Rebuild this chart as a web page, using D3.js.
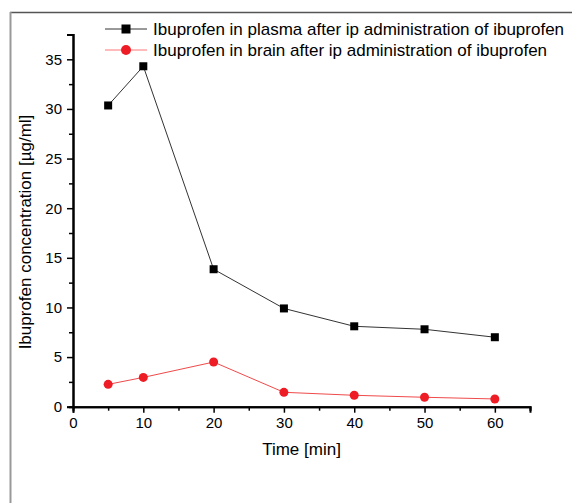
<!DOCTYPE html>
<html>
<head>
<meta charset="utf-8">
<script src="https://cdn.jsdelivr.net/npm/d3@7"></script>
<style>
  body { margin: 0; background: #fff; }
  svg { display: block; font-family: "Liberation Sans", Arial, sans-serif; }
</style>
</head>
<body>
<svg width="572" height="503"></svg>
<script>
// データ
var times = [5, 10, 20, 30, 40, 50, 60];
var plasma = [30.35, 34.3, 13.85, 9.9, 8.1, 7.8, 7.0];
var brain = [2.25, 2.95, 4.5, 1.45, 1.15, 0.95, 0.78];
var seriesNames = ["Ibuprofen in plasma after ip administration of ibuprofen",
                   "Ibuprofen in brain after ip administration of ibuprofen"];
var xTicks = [0, 10, 20, 30, 40, 50, 60];
var yTicks = [0, 5, 10, 15, 20, 25, 30, 35];

var svg = d3.select("svg");

// 枠
svg.append("line").attr("x1", 10).attr("x2", 572).attr("y1", 12.5).attr("y2", 12.5)
   .attr("stroke", "#555").attr("stroke-width", 1.5);
svg.append("line").attr("x1", 10.5).attr("x2", 10.5).attr("y1", 12).attr("y2", 503)
   .attr("stroke", "#999").attr("stroke-width", 2);

var x = d3.scaleLinear().domain([0, 65]).range([73, 530]);
var y = d3.scaleLinear().domain([0, 37.5]).range([406.7, 34.5]);

// 軸
var xAxis = svg.append("g").attr("transform", "translate(0,406.7)");
xAxis.call(d3.axisBottom(x).tickValues(d3.range(5, 70, 10)).tickSize(4).tickFormat(""));
xAxis.call(function(g) {
  g.append("g").call(d3.axisBottom(x).tickValues(xTicks).tickSize(6).tickPadding(5));
});
var yAxis = svg.append("g").attr("transform", "translate(73,0)");
yAxis.call(d3.axisLeft(y).tickValues(d3.range(2.5, 40, 5)).tickSize(4).tickFormat(""));
yAxis.call(function(g) {
  g.append("g").call(d3.axisLeft(y).tickValues(yTicks).tickSize(6).tickPadding(5));
});
svg.selectAll(".domain").attr("stroke", "#000").attr("stroke-width", 2);
svg.selectAll(".tick line").attr("stroke", "#000").attr("stroke-width", 1.5);
svg.selectAll(".tick text").attr("font-size", 15).attr("font-family", "Liberation Sans, Arial, sans-serif").attr("fill", "#000");

// 軸ラベル
svg.append("text").attr("x", 301.5).attr("y", 455).attr("text-anchor", "middle")
   .attr("font-size", 17).attr("fill", "#000").text("Time [min]");
svg.append("text").attr("transform", "translate(31,232) rotate(-90)").attr("text-anchor", "middle")
   .attr("font-size", 17).attr("fill", "#000").text("Ibuprofen concentration [µg/ml]");

var line = d3.line().x(function(d, i) { return x(times[i]); }).y(function(d) { return y(d); });

// 系列
svg.append("path").datum(plasma).attr("d", line).attr("fill", "none")
   .attr("stroke", "#333").attr("stroke-width", 1);
svg.append("path").datum(brain).attr("d", line).attr("fill", "none")
   .attr("stroke", "#f04a4a").attr("stroke-width", 1);

svg.append("g").selectAll("rect").data(plasma).enter().append("rect")
   .attr("x", function(d, i) { return x(times[i]) - 4; })
   .attr("y", function(d) { return y(d) - 4; })
   .attr("width", 8).attr("height", 8).attr("fill", "#000");
svg.append("g").selectAll("circle").data(brain).enter().append("circle")
   .attr("cx", function(d, i) { return x(times[i]); })
   .attr("cy", function(d) { return y(d); })
   .attr("r", 4.5).attr("fill", "#ee1c25");

// 凡例
var lg = svg.append("g");
lg.append("line").attr("x1", 105).attr("x2", 147).attr("y1", 29).attr("y2", 29).attr("stroke", "#333");
lg.append("rect").attr("x", 121.5).attr("y", 24.5).attr("width", 9).attr("height", 9).attr("fill", "#000");
lg.append("line").attr("x1", 105).attr("x2", 147).attr("y1", 50).attr("y2", 50).attr("stroke", "#f77");
lg.append("circle").attr("cx", 126).attr("cy", 50).attr("r", 5).attr("fill", "#ee1c25");
lg.selectAll("text").data(seriesNames).enter().append("text")
   .attr("x", 153).attr("y", function(d, i) { return 35 + i * 21; })
   .attr("font-size", 17).attr("fill", "#000").text(function(d) { return d; });
</script>
</body>
</html>
